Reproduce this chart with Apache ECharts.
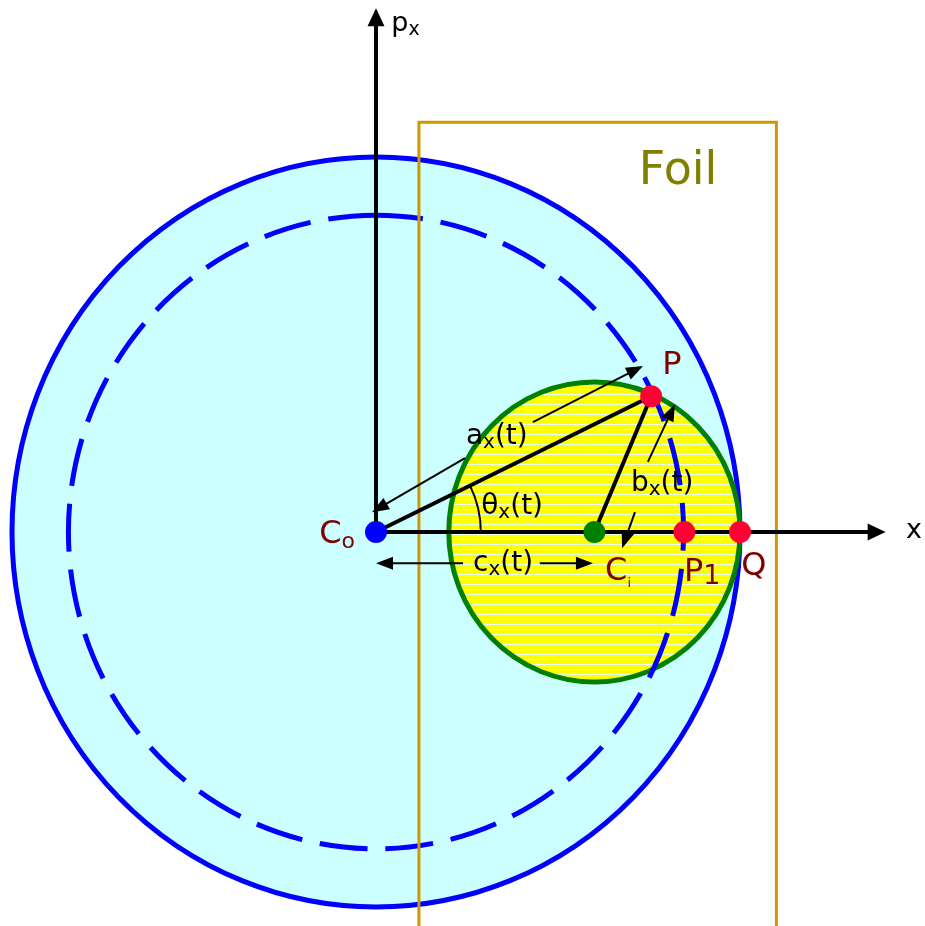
<!DOCTYPE html>
<html>
<head>
<meta charset="utf-8">
<script src="https://cdn.jsdelivr.net/npm/echarts@6/dist/echarts.min.js"></script>
<style>
html, body { margin: 0; padding: 0; background: #fff; }
#main { width: 925px; height: 926px; }
</style>
</head>
<body>
<div id="main"></div>
<script>
// circles (drawn in this order): outer envelope, inner beam, orbit of P
var circleNames = ['outer', 'inner', 'orbit'];
var circleX = [0, 6, 0];
var circleY = [0, 0, 0];
var circleR = [10, 4, 8.45];

// foil strip
var foilX = [1.18, 11];
var foilY = [-10.6, 10.93];

// marked points
var pointNames = ['Co', 'Ci', 'P', 'P1', 'Q'];
var pointX = [0, 6, 7.56, 8.47, 10];
var pointY = [0, 0, 3.62, 0, 0];

// straight segments
var segFrom = [[0, 0], [0, 0], [0, 0], [6, 0], [2.445, 1.97], [4.31, 2.93], [7.115, 0.53], [7.47, 1.87], [2.39, -0.83], [4.5, -0.83]];
var segTo = [[14, 0], [0, 13.97], [7.56, 3.62], [7.56, 3.62], [-0.11, 0.53], [7.335, 4.43], [6.76, -0.43], [8.21, 3.41], [0, -0.83], [5.96, -0.83]];
var segKind = ['axis', 'axis', 'bold', 'bold', 'thin', 'thin', 'thin', 'thin', 'thin', 'thin'];

// angle theta: radius of the arc around Co
var arcRadius = 2.88;

// labels
var labelMain = ['p', 'x', 'C', 'C', 'P', 'P', 'Q', 'Foil', 'a', 'θ', 'b', 'c'];
var labelSub = ['x', '', 'o', 'i', '', '1', '', '', 'x', 'x', 'x', 'x'];
var labelTail = ['', '', '', '', '', '', '', '', '(t)', '(t)', '(t)', '(t)'];
var labelX = [0.42, 14.78, -1.07, 6.65, 8.13, 8.96, 10.38, 8.3, 3.32, 3.74, 7.86, 3.49];
var labelY = [13.55, 0.03, -0.08, -1.07, 4.43, -1.09, -0.93, 9.6, 2.53, 0.67, 1.28, -0.85];
var labelGroup = ['axis', 'axis', 'point', 'point', 'point', 'point', 'point', 'foil', 'dim', 'dim', 'dim', 'dim'];

var FONT = '"DejaVu Sans", Verdana, sans-serif';

// yellow fill with thin light stripes
var stripe = document.createElement('canvas');
stripe.width = 10;
stripe.height = 5;
var g = stripe.getContext('2d');
g.fillStyle = '#FFFF00';
g.fillRect(0, 0, 10, 5);
g.fillStyle = '#E6FFF0';
g.fillRect(0, 4, 10, 1.2);

var circleStyles = [
    { fill: '#CCFFFF', stroke: '#0000FF', lineWidth: 5 },
    { fill: { image: stripe, repeat: 'repeat' }, stroke: '#008000', lineWidth: 5 },
    { fill: null, stroke: '#0000FF', lineWidth: 5, lineDash: [48, 18] }
];

var pointColors = ['#0000FF', '#008000', '#FF0033', '#FF0033', '#FF0033'];

var groupStyle = {
    axis: { m: 27, s: 19, color: '#000000' },
    point: { m: 32, s: 22, color: '#800000' },
    foil: { m: 46, s: 20, color: '#808000' },
    dim: { m: 28, s: 20, color: '#000000' }
};

var myChart = echarts.init(document.getElementById('main'));

function renderCircle(params, api) {
    var i = params.dataIndex;
    var c = api.coord([api.value(0), api.value(1)]);
    var s = api.size([api.value(2), api.value(2)]);
    var rx = s[0], ry = s[1];
    var d = 'M' + c[0] + ' ' + (c[1] - ry) +
        ' A' + rx + ' ' + ry + ' 0 1 0 ' + c[0] + ' ' + (c[1] + ry) +
        ' A' + rx + ' ' + ry + ' 0 1 0 ' + c[0] + ' ' + (c[1] - ry) + ' Z';
    return { type: 'path', shape: { pathData: d }, style: circleStyles[i] };
}

function renderFoil(params, api) {
    var a = api.coord([api.value(0), api.value(3)]);
    var b = api.coord([api.value(1), api.value(2)]);
    return {
        type: 'rect',
        shape: { x: a[0], y: a[1], width: b[0] - a[0], height: b[1] - a[1] },
        style: { fill: null, stroke: '#CC9900', lineWidth: 3 }
    };
}

function renderSegment(params, api) {
    var i = params.dataIndex;
    var kind = segKind[i];
    var a = api.coord([api.value(0), api.value(1)]);
    var b = api.coord([api.value(2), api.value(3)]);
    var lw = kind === 'thin' ? 2 : 4;
    var children = [];
    var end = b.slice();
    if (kind !== 'bold') {
        var len = kind === 'axis' ? 18 : 17;
        var half = kind === 'axis' ? 8.5 : 6.5;
        var dx = b[0] - a[0], dy = b[1] - a[1];
        var d = Math.sqrt(dx * dx + dy * dy);
        var ux = dx / d, uy = dy / d;
        end = [b[0] - ux * len * 0.7, b[1] - uy * len * 0.7];
        children.push({
            type: 'polygon',
            z2: 2,
            shape: {
                points: [
                    [b[0], b[1]],
                    [b[0] - ux * len - uy * half, b[1] - uy * len + ux * half],
                    [b[0] - ux * len + uy * half, b[1] - uy * len - ux * half]
                ]
            },
            style: { fill: '#000' }
        });
    }
    children.unshift({
        type: 'line',
        shape: { x1: a[0], y1: a[1], x2: end[0], y2: end[1] },
        style: { stroke: '#000', lineWidth: lw }
    });
    return { type: 'group', children: children };
}

function renderArc(params, api) {
    var c = api.coord([api.value(0), api.value(1)]);
    var r = api.size([api.value(2), 0])[0];
    var p = api.coord([api.value(3), api.value(4)]);
    var ang = Math.atan2(p[1] - c[1], p[0] - c[0]);
    return {
        type: 'arc',
        shape: { cx: c[0], cy: c[1], r: r, startAngle: ang, endAngle: 0, clockwise: true },
        style: { fill: null, stroke: '#000', lineWidth: 2 }
    };
}

function renderLabel(params, api) {
    var i = params.dataIndex;
    var p = api.coord([api.value(0), api.value(1)]);
    var st = groupStyle[labelGroup[i]];
    var txt = '{m|' + labelMain[i] + '}';
    if (labelSub[i]) txt += '{s|' + labelSub[i] + '}';
    if (labelTail[i]) txt += '{m|' + labelTail[i] + '}';
    var subSize = labelMain[i] === 'C' && labelSub[i] === 'i' ? 13 : st.s;
    if (labelSub[i] === '1') subSize = 27;
    return {
        type: 'text',
        x: p[0],
        y: p[1],
        style: {
            text: txt,
            align: i === 0 ? 'left' : 'center',
            verticalAlign: 'middle',
            rich: {
                m: { fontSize: st.m, fontFamily: FONT, fill: st.color, lineHeight: st.m + 4 },
                s: { fontSize: subSize, fontFamily: FONT, fill: st.color, lineHeight: subSize, verticalAlign: 'bottom' }
            }
        }
    };
}

var option = {
    animation: false,
    backgroundColor: '#ffffff',
    grid: { left: 12, right: 21.2, top: 7, bottom: 0.25 },
    xAxis: { type: 'value', min: -10, max: 14.5, show: false },
    yAxis: { type: 'value', min: -10.5, max: 14, show: false },
    series: [
        {
            name: 'circles',
            type: 'custom',
            renderItem: renderCircle,
            data: circleNames.map(function (n, i) { return [circleX[i], circleY[i], circleR[i]]; }),
            silent: true
        },
        {
            name: 'foil',
            type: 'custom',
            renderItem: renderFoil,
            data: [[foilX[0], foilX[1], foilY[0], foilY[1]]],
            silent: true
        },
        {
            name: 'segments',
            type: 'custom',
            renderItem: renderSegment,
            data: segFrom.map(function (f, i) { return [f[0], f[1], segTo[i][0], segTo[i][1]]; }),
            silent: true
        },
        {
            name: 'theta',
            type: 'custom',
            renderItem: renderArc,
            data: [[pointX[0], pointY[0], arcRadius, pointX[2], pointY[2]]],
            silent: true
        },
        {
            name: 'points',
            type: 'scatter',
            symbolSize: 22,
            data: pointNames.map(function (n, i) {
                return { name: n, value: [pointX[i], pointY[i]], itemStyle: { color: pointColors[i], opacity: 1 } };
            }),
            silent: true
        },
        {
            name: 'labels',
            type: 'custom',
            renderItem: renderLabel,
            data: labelMain.map(function (t, i) { return [labelX[i], labelY[i]]; }),
            silent: true
        }
    ]
};

myChart.setOption(option);
</script>
</body>
</html>
